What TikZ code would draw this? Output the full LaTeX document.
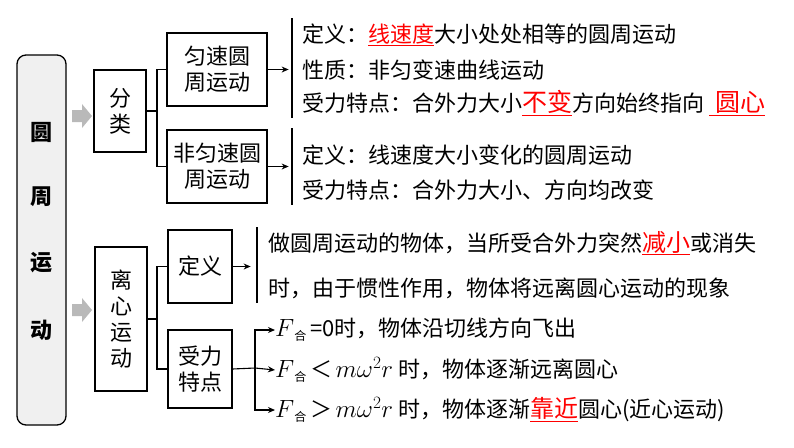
\documentclass[tikz,border=0pt]{standalone}
\usepackage{fontspec}
\setmainfont{Noto Sans CJK SC}
\usetikzlibrary{arrows.meta}
\newcommand{\rd}[1]{\textcolor{red}{\underline{#1}}}
\newcommand{\Fh}{{\fontsize{26pt}{26pt}\selectfont$F$}{\fontsize{12pt}{12pt}\selectfont\raisebox{-4pt}{合}}}
\newcommand{\mwr}{{\fontsize{25pt}{25pt}\selectfont$m\omega^2r$}}
\begin{document}
\begin{tikzpicture}[x=1pt,y=-1pt,
  txt/.style={anchor=west,inner sep=0pt,font=\fontsize{22pt}{24pt}\selectfont},
  bx/.style={draw,line width=1.2pt,align=center,inner sep=0pt,font=\fontsize{22pt}{26pt}\selectfont},
  ln/.style={line width=1.1pt},
  ar/.style={line width=1.1pt,-{Stealth[length=7pt,width=6pt]}},
  bar/.style={line width=1.3pt},
  garr/.style={fill=gray!55,draw=none}]
\useasboundingbox (0,0) rectangle (794,447);
% main box
\node[draw,line width=1.3pt,rounded corners=9pt,fill=gray!12,minimum width=49pt,minimum height=370pt,inner sep=0pt] (main) at (41.5,240) {};
\foreach \c/\y in {圆/132,周/197,运/263,动/330}
  \node[font=\fontsize{22pt}{22pt}\selectfont\bfseries] at (41.5,\y) {\c};
% gray arrows
\fill[garr] (72,110)--(82,110)--(82,104)--(92,116)--(82,128)--(82,122)--(72,122)--cycle;
\fill[garr] (72,304)--(82,304)--(82,298)--(92,310)--(82,322)--(82,316)--(72,316)--cycle;
% 分类
\node[bx,minimum width=52pt,minimum height=82pt] (fl) at (120,111) {分\\类};
\node[bx,minimum width=100pt,minimum height=73pt] (ys) at (217,69.5) {匀速圆\\周运动};
\node[bx,minimum width=100pt,minimum height=73pt] (fys) at (217,166.5) {非匀速圆\\周运动};
\coordinate (j1) at (157,111);
\draw[ln] (fl.east)--(j1);
\draw[ln] (ys.west)-|(j1)|-(fys.west);
\draw[ar] (ys.east)--++(21,0) coordinate (a1);
\draw[ar] (fys.east)--++(21,0) coordinate (a2);
\draw[bar] (292,18)--(292,118);
\draw[bar] (292,128)--(292,205);
\node[txt] (t1) at (302,35) {定义：\rd{线速度}大小处处相等的圆周运动};
\node[txt] (t2) at (302,70) {性质：非匀变速曲线运动};
\node[txt] (t3) at (302,103) {受力特点：合外力大小\textcolor{red}{\underline{\fontsize{25pt}{25pt}\selectfont 不变}}方向始终指向 \textcolor{red}{\underline{\hspace{6pt}\fontsize{25pt}{25pt}\selectfont 圆心}}};
\node[txt] (t4) at (302,155) {定义：线速度大小变化的圆周运动};
\node[txt] (t5) at (302,190) {受力特点：合外力大小、方向均改变};
% 离心运动
\node[bx,minimum width=52pt,minimum height=144pt] (lx) at (121,319) {离\\心\\运\\动};
\node[bx,minimum width=64pt,minimum height=73pt] (dy) at (200,266.5) {定义};
\node[bx,minimum width=64pt,minimum height=78pt] (sl) at (200,369) {受力\\特点};
\coordinate (j2) at (157,319);
\draw[ln] (lx.east)--(j2);
\draw[ln] (dy.west)-|(j2)|-(sl.west);
\draw[ar] (dy.east)--++(18,0);
\draw[bar] (257,227)--(257,303);
\node[txt] (t6) at (268,243) {做圆周运动的物体，当所受合外力突然\textcolor{red}{\underline{\fontsize{24pt}{24pt}\selectfont 减小}}或消失};
\node[txt] (t7) at (268,288) {时，由于惯性作用，物体将远离圆心运动的现象};
\coordinate (j3) at (255,368);
\draw[ln] (sl.east)--(j3);
\node[txt] (f1) at (275,330) {\Fh\,=0时，物体沿切线方向飞出};
\node[txt] (f2) at (275,370) {\Fh\,＜\,\mwr\ 时，物体逐渐远离圆心};
\node[txt] (f3) at (275,410) {\Fh\,＞\,\mwr\ 时，物体逐渐\textcolor{red}{\underline{\fontsize{24pt}{24pt}\selectfont 靠近}}圆心(近心运动)};
\draw[ar] (j3)|-(f1.west);
\draw[ar] (j3)--(f2.west);
\draw[ar] (j3)|-(f3.west);
\end{tikzpicture}
\end{document}
